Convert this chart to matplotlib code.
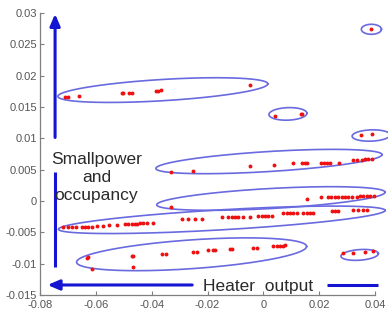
"""
Clusters of heater output vs small power / occupancy, with ellipses round each group.
"""

import numpy as np
import matplotlib.pyplot as plt

plt.rcParams["font.family"] = ["Liberation Sans", "DejaVu Sans"]

# red points, one list pair per cluster
a_x = [-0.0710, -0.0700, -0.0660, -0.0508, -0.0503, -0.0480, -0.0472, -0.0386, -0.0376, -0.0367, -0.0046]
a_y = [0.0166, 0.0166, 0.0168, 0.0172, 0.0172, 0.0172, 0.0172, 0.0176, 0.0176, 0.0177, 0.0185]

b_x = [0.0387]
b_y = [0.02745]

c_x = [0.0041, 0.0134, 0.0138]
c_y = [0.0136, 0.0139, 0.0139]

d_x = [0.0349, 0.0391]
d_y = [0.0105, 0.0107]

e_x = [-0.0332, -0.0251, -0.0048, 0.0038, 0.0105, 0.0138, 0.0149, 0.0156, 0.0206, 0.0217,
       0.0227, 0.0240, 0.0272, 0.0322, 0.0335, 0.0352, 0.0365, 0.0376, 0.0389]
e_y = [0.0047, 0.0048, 0.0056, 0.0057, 0.0060, 0.0060, 0.0060, 0.0060, 0.0061, 0.0061,
       0.0061, 0.0061, 0.0061, 0.0066, 0.0066, 0.0066, 0.0067, 0.0067, 0.0067]

f_x = [-0.0329, 0.0157, 0.0208, 0.0232, 0.0244, 0.0256, 0.0268, 0.0280, 0.0292, 0.0304,
       0.0319, 0.0334, 0.0346, 0.0357, 0.0370, 0.0381, 0.0396]
f_y = [-0.0009, 0.0003, 0.00056, 0.0006, 0.0006, 0.0006, 0.00064, 0.00064, 0.00064, 0.0007,
       0.0007, 0.0007, 0.00075, 0.0008, 0.0008, 0.0008, 0.0008]

g_x = [-0.0717, -0.0699, -0.0686, -0.0671, -0.0651, -0.0639, -0.0627, -0.0615, -0.0597, -0.0573,
       -0.0552, -0.0525, -0.0496, -0.0484, -0.0472, -0.0460, -0.0451, -0.0442, -0.0430, -0.0418,
       -0.0394, -0.0292, -0.0269, -0.0245, -0.0221, -0.0149, -0.0125, -0.0113, -0.0101, -0.0090,
       -0.0072, -0.0048, -0.0018, -0.0006, 0.0006, 0.0018, 0.0030, 0.0072, 0.0084, 0.0096,
       0.0107, 0.0120, 0.0143, 0.0155, 0.0167, 0.0179, 0.0245, 0.0257, 0.0269, 0.0322,
       0.0340, 0.0358, 0.0370]
g_y = [-0.0042, -0.0042, -0.0042, -0.00415, -0.00415, -0.0041, -0.0041, -0.0041, -0.00404, -0.00394,
       -0.00388, -0.00388, -0.00367, -0.00367, -0.00367, -0.00367, -0.00362, -0.00356, -0.00356, -0.00356,
       -0.00356, -0.00295, -0.00295, -0.00295, -0.00292, -0.0026, -0.00255, -0.00255, -0.00255, -0.00255,
       -0.00255, -0.0025, -0.00244, -0.00244, -0.00244, -0.00244, -0.00244, -0.00199, -0.00199, -0.00199,
       -0.00199, -0.00199, -0.00191, -0.00191, -0.00191, -0.00191, -0.00164, -0.00164, -0.00164, -0.00144,
       -0.00144, -0.00144, -0.00139]

h_x = [-0.0633, -0.0628, -0.0615, -0.0472, -0.0466, -0.0466, -0.0364, -0.0349, -0.0251, -0.0239,
       -0.0199, -0.0181, -0.0173, -0.0119, -0.0113, -0.0036, -0.0024, 0.0036, 0.0048, 0.0060,
       0.0070, 0.0079]
h_y = [-0.0091, -0.00894, -0.0109, -0.00878, -0.00878, -0.01053, -0.00838, -0.00838, -0.00806, -0.00806,
       -0.00782, -0.00782, -0.00782, -0.00766, -0.00758, -0.00742, -0.00742, -0.00718, -0.00718, -0.00713,
       -0.0071, -0.00707]

i_x = [0.0284, 0.0322, 0.0364, 0.0394]
i_y = [-0.00834, -0.00825, -0.00814, -0.00798]

# ellipses: centre, half major axis as (dx, dy), vertical half height
ell_cx = [-0.0360, 0.0387, 0.0088, 0.0386, 0.0020, 0.0027, -0.0149, -0.0257, 0.0345]
ell_cy = [0.0177, 0.0274, 0.0139, 0.01045, 0.0063, 0.0004, -0.0030, -0.0085, -0.0086]
ell_dx = [0.0376, 0.0036, 0.0068, 0.0068, 0.0405, 0.0409, 0.0585, 0.0412, 0.0067]
ell_dy = [0.0010, 0.0, 0.0001, 0.0001, 0.0011, 0.0010, 0.0015, 0.00125, 0.0002]
ell_h = [0.0017, 0.0008, 0.0010, 0.0009, 0.0016, 0.0016, 0.0016, 0.0023, 0.00085]

x_ticks = [-0.08, -0.06, -0.04, -0.02, 0, 0.02, 0.04]
y_ticks = [-0.015, -0.01, -0.005, 0, 0.005, 0.01, 0.015, 0.02, 0.025, 0.03]

ELL_COLOR = "#6a6ae0"
ARROW_COLOR = "#1414d2"
AXIS_COLOR = "#7f7f7f"
TEXT_COLOR = "#2a2a2a"


def main() -> None:
    fig = plt.figure(figsize=(3.88, 3.18), dpi=100)
    ax = fig.add_axes([0.1031, 0.0723, 0.8634, 0.8868])

    t = np.linspace(0, 2 * np.pi, 240)
    for cx, cy, dx, dy, h in zip(ell_cx, ell_cy, ell_dx, ell_dy, ell_h):
        ax.plot(cx + dx * np.cos(t), cy + dy * np.cos(t) + h * np.sin(t),
                color=ELL_COLOR, lw=1.2, clip_on=False, zorder=3)

    xs = a_x + b_x + c_x + d_x + e_x + f_x + g_x + h_x + i_x
    ys = a_y + b_y + c_y + d_y + e_y + f_y + g_y + h_y + i_y
    ax.plot(xs, ys, ".", color="#ee1111", ms=3.6, clip_on=False, zorder=4)

    # vertical arrow (split by the label)
    ax.annotate("", xy=(-0.0746, 0.0303), xytext=(-0.0746, 0.0097),
                arrowprops=dict(arrowstyle="-|>,head_length=0.7,head_width=0.3",
                                color=ARROW_COLOR, lw=2.2), annotation_clip=False)
    ax.plot([-0.0746, -0.0746], [0.0047, -0.0105], color=ARROW_COLOR, lw=2.2,
            solid_capstyle="butt", clip_on=False)
    ax.text(-0.0598, 0.0038, "Smallpower\nand\noccupancy", ha="center", va="center",
            fontsize=12.5, color=TEXT_COLOR, linespacing=1.25, zorder=5)

    # horizontal arrow
    ax.annotate("", xy=(-0.0783, -0.0134), xytext=(-0.0245, -0.0134),
                arrowprops=dict(arrowstyle="-|>,head_length=0.7,head_width=0.3",
                                color=ARROW_COLOR, lw=2.2), annotation_clip=False)
    ax.plot([0.0227, 0.0411], [-0.0134, -0.0134], color=ARROW_COLOR, lw=2.2,
            solid_capstyle="butt", clip_on=False)
    ax.text(-0.0019, -0.01365, "Heater  output", ha="center", va="center",
            fontsize=12.5, color=TEXT_COLOR, zorder=2)

    ax.set_xlim(-0.08, 0.04)
    ax.set_ylim(-0.015, 0.03)
    ax.set_xticks(x_ticks)
    ax.set_xticklabels([f"{v:g}" for v in x_ticks])
    ax.set_yticks(y_ticks)
    ax.set_yticklabels([f"{v:g}" for v in y_ticks])
    ax.tick_params(direction="in", length=3, width=0.8, colors=AXIS_COLOR,
                   labelsize=8, labelcolor="#555555", pad=2)
    ax.tick_params(axis="x", pad=3.5)
    for side in ["top", "right"]:
        ax.spines[side].set_visible(False)
    for side in ["left", "bottom"]:
        ax.spines[side].set_color(AXIS_COLOR)
        ax.spines[side].set_linewidth(0.9)

    fig.savefig("out.png", dpi=100)
    plt.close(fig)


if __name__ == "__main__":
    main()
